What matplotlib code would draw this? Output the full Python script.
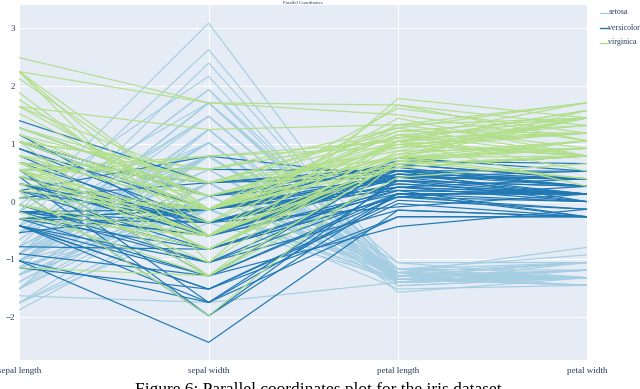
import numpy as np
import matplotlib
matplotlib.use("Agg")
import matplotlib.pyplot as plt
from matplotlib.lines import Line2D

# Iris measurements (sepal length, sepal width, petal length, petal width)
setosa = [
    [5.1,3.5,1.4,0.2],[4.9,3.0,1.4,0.2],[4.7,3.2,1.3,0.2],[4.6,3.1,1.5,0.2],[5.0,3.6,1.4,0.2],
    [5.4,3.9,1.7,0.4],[4.6,3.4,1.4,0.3],[5.0,3.4,1.5,0.2],[4.4,2.9,1.4,0.2],[4.9,3.1,1.5,0.1],
    [5.4,3.7,1.5,0.2],[4.8,3.4,1.6,0.2],[4.8,3.0,1.4,0.1],[4.3,3.0,1.1,0.1],[5.8,4.0,1.2,0.2],
    [5.7,4.4,1.5,0.4],[5.4,3.9,1.3,0.4],[5.1,3.5,1.4,0.3],[5.7,3.8,1.7,0.3],[5.1,3.8,1.5,0.3],
    [5.4,3.4,1.7,0.2],[5.1,3.7,1.5,0.4],[4.6,3.6,1.0,0.2],[5.1,3.3,1.7,0.5],[4.8,3.4,1.9,0.2],
    [5.0,3.0,1.6,0.2],[5.0,3.4,1.6,0.4],[5.2,3.5,1.5,0.2],[5.2,3.4,1.4,0.2],[4.7,3.2,1.6,0.2],
    [4.8,3.1,1.6,0.2],[5.4,3.4,1.5,0.4],[5.2,4.1,1.5,0.1],[5.5,4.2,1.4,0.2],[4.9,3.1,1.5,0.2],
    [5.0,3.2,1.2,0.2],[5.5,3.5,1.3,0.2],[4.9,3.6,1.4,0.1],[4.4,3.0,1.3,0.2],[5.1,3.4,1.5,0.2],
    [5.0,3.5,1.3,0.3],[4.5,2.3,1.3,0.3],[4.4,3.2,1.3,0.2],[5.0,3.5,1.6,0.6],[5.1,3.8,1.9,0.4],
    [4.8,3.0,1.4,0.3],[5.1,3.8,1.6,0.2],[4.6,3.2,1.4,0.2],[5.3,3.7,1.5,0.2],[5.0,3.3,1.4,0.2],
]
versicolor = [
    [7.0,3.2,4.7,1.4],[6.4,3.2,4.5,1.5],[6.9,3.1,4.9,1.5],[5.5,2.3,4.0,1.3],[6.5,2.8,4.6,1.5],
    [5.7,2.8,4.5,1.3],[6.3,3.3,4.7,1.6],[4.9,2.4,3.3,1.0],[6.6,2.9,4.6,1.3],[5.2,2.7,3.9,1.4],
    [5.0,2.0,3.5,1.0],[5.9,3.0,4.2,1.5],[6.0,2.2,4.0,1.0],[6.1,2.9,4.7,1.4],[5.6,2.9,3.6,1.3],
    [6.7,3.1,4.4,1.4],[5.6,3.0,4.5,1.5],[5.8,2.7,4.1,1.0],[6.2,2.2,4.5,1.5],[5.6,2.5,3.9,1.1],
    [5.9,3.2,4.8,1.8],[6.1,2.8,4.0,1.3],[6.3,2.5,4.9,1.5],[6.1,2.8,4.7,1.2],[6.4,2.9,4.3,1.3],
    [6.6,3.0,4.4,1.4],[6.8,2.8,4.8,1.4],[6.7,3.0,5.0,1.7],[6.0,2.9,4.5,1.5],[5.7,2.6,3.5,1.0],
    [5.5,2.4,3.8,1.1],[5.5,2.4,3.7,1.0],[5.8,2.7,3.9,1.2],[6.0,2.7,5.1,1.6],[5.4,3.0,4.5,1.5],
    [6.0,3.4,4.5,1.6],[6.7,3.1,4.7,1.5],[6.3,2.3,4.4,1.3],[5.6,3.0,4.1,1.3],[5.5,2.5,4.0,1.3],
    [5.5,2.6,4.4,1.2],[6.1,3.0,4.6,1.4],[5.8,2.6,4.0,1.2],[5.0,2.3,3.3,1.0],[5.6,2.7,4.2,1.3],
    [5.7,3.0,4.2,1.2],[5.7,2.9,4.2,1.3],[6.2,2.9,4.3,1.3],[5.1,2.5,3.0,1.1],[5.7,2.8,4.1,1.3],
]
virginica = [
    [6.3,3.3,6.0,2.5],[5.8,2.7,5.1,1.9],[7.1,3.0,5.9,2.1],[6.3,2.9,5.6,1.8],[6.5,3.0,5.8,2.2],
    [7.6,3.0,6.6,2.1],[4.9,2.5,4.5,1.7],[7.3,2.9,6.3,1.8],[6.7,2.5,5.8,1.8],[7.2,3.6,6.1,2.5],
    [6.5,3.2,5.1,2.0],[6.4,2.7,5.3,1.9],[6.8,3.0,5.5,2.1],[5.7,2.5,5.0,2.0],[5.8,2.8,5.1,2.4],
    [6.4,3.2,5.3,2.3],[6.5,3.0,5.5,1.8],[7.7,3.8,6.7,2.2],[7.7,2.6,6.9,2.3],[6.0,2.2,5.0,1.5],
    [6.9,3.2,5.7,2.3],[5.6,2.8,4.9,2.0],[7.7,2.8,6.7,2.0],[6.3,2.7,4.9,1.8],[6.7,3.3,5.7,2.1],
    [7.2,3.2,6.0,1.8],[6.2,2.8,4.8,1.8],[6.1,3.0,4.9,1.8],[6.4,2.8,5.6,2.1],[7.2,3.0,5.8,1.6],
    [7.4,2.8,6.1,1.9],[7.9,3.8,6.4,2.0],[6.4,2.8,5.6,2.2],[6.3,2.8,5.1,1.5],[6.1,2.6,5.6,1.4],
    [7.7,3.0,6.1,2.3],[6.3,3.4,5.6,2.4],[6.4,3.1,5.5,1.8],[6.0,3.0,4.8,1.8],[6.9,3.1,5.4,2.1],
    [6.7,3.1,5.6,2.4],[6.9,3.1,5.1,2.3],[5.8,2.7,5.1,1.9],[6.8,3.2,5.9,2.3],[6.7,3.3,5.7,2.5],
    [6.7,3.0,5.2,2.3],[6.3,2.5,5.0,1.9],[6.5,3.0,5.2,2.0],[6.2,3.4,5.4,2.3],[5.9,3.0,5.1,1.8],
]
species = ["setosa", "versicolor", "virginica"]
features = ["sepal length", "sepal width", "petal length", "petal width"]
y_ticks = [3, 2, 1, 0, -1, -2]

colors = {"setosa": "#a6cee3", "versicolor": "#1f78b4", "virginica": "#b2df8a"}

groups = {"setosa": np.array(setosa), "versicolor": np.array(versicolor),
          "virginica": np.array(virginica)}
allx = np.vstack([groups[s] for s in species])
mu = allx.mean(axis=0)
sd = allx.std(axis=0)

W, H = 640, 389
fig = plt.figure(figsize=(W/100, H/100), dpi=100)
fig.patch.set_facecolor("white")
L, R, T, B = 19.3, 587.3, 4.7, 360.0
ax = fig.add_axes([L/W, 1-B/H, (R-L)/W, (B-T)/H])
ax.set_facecolor("#e5ecf6")
for s in ax.spines.values():
    s.set_visible(False)

xs = np.arange(len(features))
for xv in xs:
    ax.axvline(xv, color="white", lw=0.8, zorder=1)
for yv in y_ticks:
    ax.axhline(yv, color="white", lw=0.8, zorder=1)

for i, sp in enumerate(species):
    z = (groups[sp] - mu) / sd
    for row in z:
        ax.plot(xs, row, color=colors[sp], lw=0.85, zorder=2 + i, solid_joinstyle="miter")

ax.set_xlim(0, 3)
ax.set_ylim(-2.739, 3.408)
ax.set_xticks([])
ax.set_yticks(y_ticks)
ax.set_yticklabels([str(t).replace("-", "\u2212") for t in y_ticks])
ax.tick_params(axis="y", length=0, pad=3, labelsize=6.5, labelcolor="#2a3f5f")
for lab in ax.get_yticklabels():
    lab.set_fontfamily("Liberation Serif")

for xv, name in zip(xs, features):
    ax.text(xv, -0.02, name, transform=ax.get_xaxis_transform(), ha="center", va="top",
            fontsize=6.5, color="#2a3f5f", family="Liberation Serif")

fig.text((L+R)/2/W, 1-1/H, "Parallel Coordinates", ha="center", va="top",
         fontsize=3.5, color="#2a3f5f", family="Liberation Serif")

for i, sp in enumerate(species):
    yy = 1 - (12.5 + 15*i)/H
    fig.add_artist(Line2D([600/W, 607.5/W], [yy, yy], color=colors[sp], lw=1.0,
                          transform=fig.transFigure))
    fig.text(608.5/W, yy, sp, ha="left", va="center", fontsize=5.8,
             color="#2a3f5f", family="Liberation Serif")

fig.text(0.5, 1-381.5/H, "Figure 6: Parallel coordinates plot for the iris dataset.",
         ha="center", va="top", fontsize=12.5, color="black", family="Liberation Serif")

fig.savefig("out.png", dpi=100)
